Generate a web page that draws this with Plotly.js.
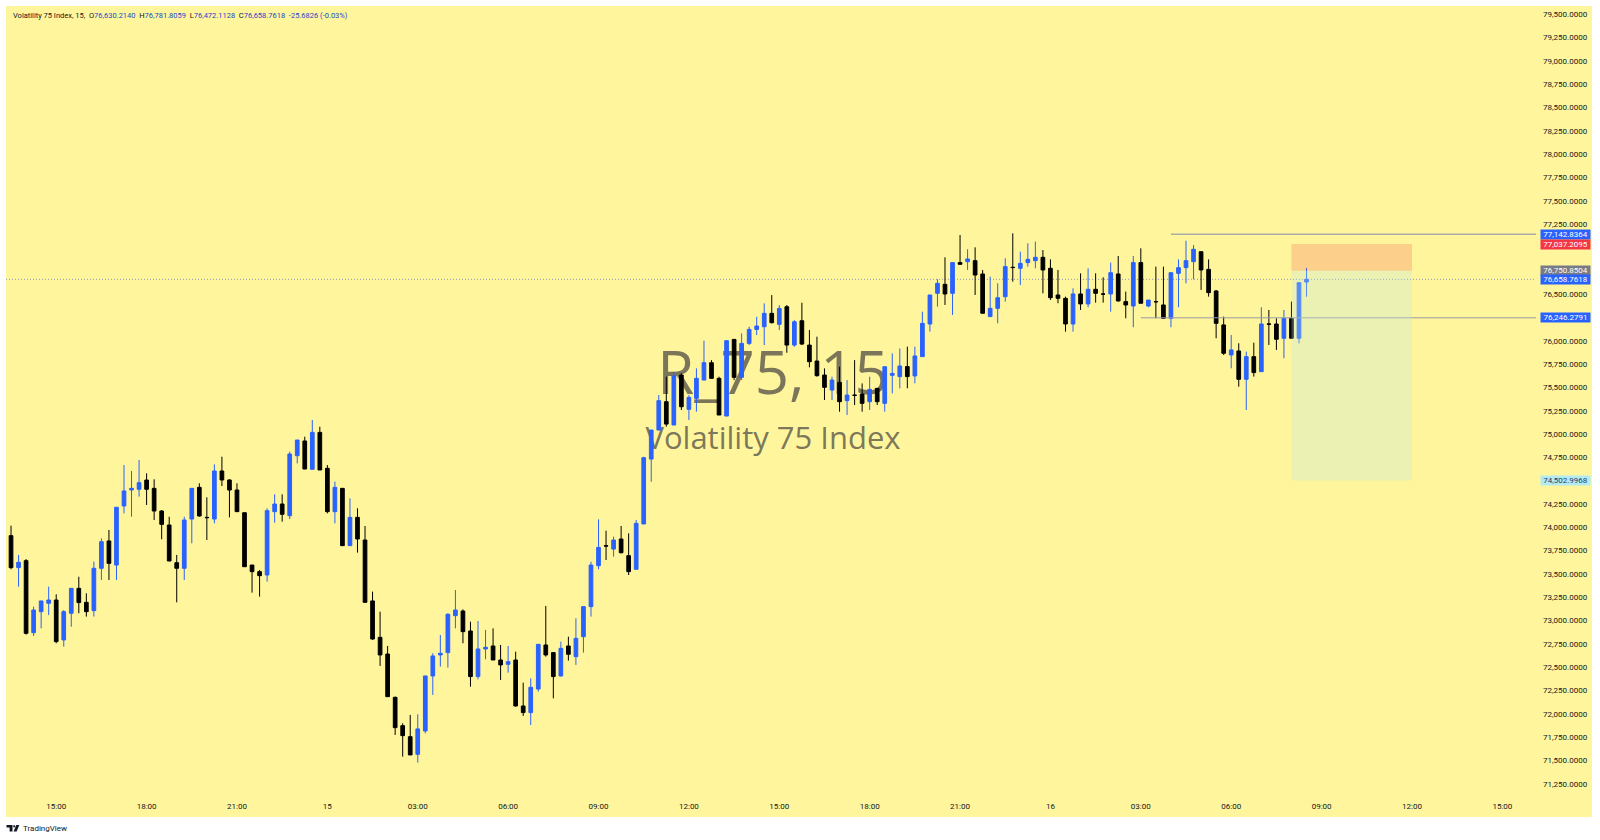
<!DOCTYPE html>
<html><head><meta charset="utf-8">
<script src="https://cdn.plot.ly/plotly-3.0.1.min.js"></script>
<style>html,body{margin:0;padding:0;background:#fff;}#chart{width:1600px;height:840px;}</style>
</head><body><div id="chart"></div>
<script>
const times = [
"2023-11-14 13:30","2023-11-14 13:45","2023-11-14 14:00","2023-11-14 14:15","2023-11-14 14:30","2023-11-14 14:45",
"2023-11-14 15:00","2023-11-14 15:15","2023-11-14 15:30","2023-11-14 15:45","2023-11-14 16:00","2023-11-14 16:15","2023-11-14 16:30","2023-11-14 16:45",
"2023-11-14 17:00","2023-11-14 17:15","2023-11-14 17:30","2023-11-14 17:45","2023-11-14 18:00","2023-11-14 18:15","2023-11-14 18:30","2023-11-14 18:45",
"2023-11-14 19:00","2023-11-14 19:15","2023-11-14 19:30","2023-11-14 19:45","2023-11-14 20:00","2023-11-14 20:15","2023-11-14 20:30","2023-11-14 20:45",
"2023-11-14 21:00","2023-11-14 21:15","2023-11-14 21:30","2023-11-14 21:45","2023-11-14 22:00","2023-11-14 22:15","2023-11-14 22:30","2023-11-14 22:45",
"2023-11-14 23:00","2023-11-14 23:15","2023-11-14 23:30","2023-11-14 23:45",
"2023-11-15 00:00","2023-11-15 00:15","2023-11-15 00:30","2023-11-15 00:45","2023-11-15 01:00","2023-11-15 01:15","2023-11-15 01:30","2023-11-15 01:45",
"2023-11-15 02:00","2023-11-15 02:15","2023-11-15 02:30","2023-11-15 02:45","2023-11-15 03:00","2023-11-15 03:15","2023-11-15 03:30","2023-11-15 03:45",
"2023-11-15 04:00","2023-11-15 04:15","2023-11-15 04:30","2023-11-15 04:45","2023-11-15 05:00","2023-11-15 05:15","2023-11-15 05:30","2023-11-15 05:45",
"2023-11-15 06:00","2023-11-15 06:15","2023-11-15 06:30","2023-11-15 06:45","2023-11-15 07:00","2023-11-15 07:15","2023-11-15 07:30","2023-11-15 07:45",
"2023-11-15 08:00","2023-11-15 08:15","2023-11-15 08:30","2023-11-15 08:45","2023-11-15 09:00","2023-11-15 09:15","2023-11-15 09:30","2023-11-15 09:45",
"2023-11-15 10:00","2023-11-15 10:15","2023-11-15 10:30","2023-11-15 10:45","2023-11-15 11:00","2023-11-15 11:15","2023-11-15 11:30","2023-11-15 11:45",
"2023-11-15 12:00","2023-11-15 12:15","2023-11-15 12:30","2023-11-15 12:45","2023-11-15 13:00","2023-11-15 13:15","2023-11-15 13:30","2023-11-15 13:45",
"2023-11-15 14:00","2023-11-15 14:15","2023-11-15 14:30","2023-11-15 14:45","2023-11-15 15:00","2023-11-15 15:15","2023-11-15 15:30","2023-11-15 15:45",
"2023-11-15 16:00","2023-11-15 16:15","2023-11-15 16:30","2023-11-15 16:45","2023-11-15 17:00","2023-11-15 17:15","2023-11-15 17:30","2023-11-15 17:45",
"2023-11-15 18:00","2023-11-15 18:15","2023-11-15 18:30","2023-11-15 18:45","2023-11-15 19:00","2023-11-15 19:15","2023-11-15 19:30","2023-11-15 19:45",
"2023-11-15 20:00","2023-11-15 20:15","2023-11-15 20:30","2023-11-15 20:45","2023-11-15 21:00","2023-11-15 21:15","2023-11-15 21:30","2023-11-15 21:45",
"2023-11-15 22:00","2023-11-15 22:15","2023-11-15 22:30","2023-11-15 22:45","2023-11-15 23:00","2023-11-15 23:15","2023-11-15 23:30","2023-11-15 23:45",
"2023-11-16 00:00","2023-11-16 00:15","2023-11-16 00:30","2023-11-16 00:45","2023-11-16 01:00","2023-11-16 01:15","2023-11-16 01:30","2023-11-16 01:45",
"2023-11-16 02:00","2023-11-16 02:15","2023-11-16 02:30","2023-11-16 02:45","2023-11-16 03:00","2023-11-16 03:15","2023-11-16 03:30","2023-11-16 03:45",
"2023-11-16 04:00","2023-11-16 04:15","2023-11-16 04:30","2023-11-16 04:45","2023-11-16 05:00","2023-11-16 05:15","2023-11-16 05:30","2023-11-16 05:45",
"2023-11-16 06:00","2023-11-16 06:15","2023-11-16 06:30","2023-11-16 06:45","2023-11-16 07:00","2023-11-16 07:15","2023-11-16 07:30","2023-11-16 07:45",
"2023-11-16 08:00","2023-11-16 08:15","2023-11-16 08:30"
];
const open = [
73911,73568,73643,72871,73096,73186,73221,72793,73079,73346,
73196,73107,73561,73854,73596,74229,74401,74408,74507,74418,
74175,74025,73621,73561,74089,74429,74107,74089,74604,74508,
74400,74157,73596,73525,73489,74168,74250,74125,74768,74926,
74622,75018,74633,74168,74418,73804,74107,73864,73211,72821,
72642,72178,71874,71756,71567,71817,72407,72632,72657,73053,
73103,72889,72400,72696,72728,72578,72532,72578,72085,72014,
72267,72739,72657,72407,72728,72614,72828,73150,73589,73803,
73767,73875,73696,73550,74036,74732,75043,75347,75097,75633,
75265,75383,75579,75765,75597,75193,76015,75608,75972,76122,
76151,76294,76176,76365,75954,76215,75954,75783,75633,75472,
75554,75358,75418,75429,75347,75490,75329,75630,75616,75723,
75623,75830,76180,76509,76605,76509,76838,76848,76859,76716,
76259,76348,76473,76788,76777,76838,76859,76895,76777,76491,
76455,76180,76502,76395,76552,76502,76502,76716,76420,76373,
76838,76373,76420,76384,76241,76723,76784,76848,76955,76766,
76534,76170,75848,75891,75587,75830,75669,76180,76180,76027,
76241,76027,76630.2140
];
const high = [
74018,73704,73660,73150,73211,73364,73282,73114,73346,73471,
73293,73632,73882,73972,74215,74668,74604,74722,74579,74515,
74186,74114,73704,74114,74418,74472,74322,74675,74757,74515,
74472,74157,73596,73543,74204,74354,74354,74811,74936,74972,
75151,75079,74668,74490,74418,74311,74204,74014,73311,73096,
72728,72185,71899,71989,71996,72407,72650,72846,73078,73328,
73121,72989,72996,72900,72917,72739,72728,72667,72335,72382,
72746,73157,72657,72775,72828,73025,73150,73632,74086,73964,
73900,74014,73936,74079,74757,75043,75418,75615,75668,75651,
75418,75704,76001,75793,75615,76008,76015,76079,76151,76258,
76401,76490,76383,76383,76222,76408,76115,76044,75704,75615,
75722,75579,75793,75543,75615,75490,75722,75865,75918,75937,
75937,76312,76491,76659,76895,76838,77134,76981,77002,76759,
76688,76616,76884,77152,76955,77045,77063,76973,76873,76759,
76473,76562,76723,76777,76723,76680,76838,76909,76527,76909,
76991,76437,76795,76795,76730,76873,77073,77027,76955,76873,
76545,76259,76062,75973,75884,75980,76359,76330,76241,76330,
76420,76623,76781.8059
];
const low = [
73550,73364,72850,72835,72917,73060,72757,72721,72935,73079,
73043,73043,73436,73436,73436,74150,74114,74329,74240,74079,
73872,73639,73196,73436,73829,74114,73864,74043,74443,74107,
74168,73578,73300,73257,73418,74050,74061,74089,74686,74625,
74622,74615,74150,74043,73804,73804,73729,73196,72793,72514,
72185,71774,71542,71560,71478,71792,72203,72507,72496,72917,
72757,72292,72371,72585,72578,72364,72442,72078,71978,71881,
72239,72614,72167,72400,72571,72525,72657,73043,73550,73650,
73686,73721,73489,73550,74036,74489,75043,75079,75097,75258,
75150,75240,75579,75597,75204,75193,75579,75579,75954,76061,
75954,76186,76115,75872,75936,75954,75715,75615,75365,75365,
75240,75204,75311,75240,75258,75311,75240,75436,75490,75491,
75544,75830,76098,76366,76384,76277,76813,76759,76491,76295,
76259,76187,76420,76634,76598,76795,76777,76509,76437,76402,
76098,76098,76330,76359,76409,76409,76312,76420,76241,76145,
76402,76359,76241,76241,76145,76359,76616,76659,76545,76473,
76027,75848,75705,75508,75258,75616,75669,75955,75902,75813,
76027,75973,76472.1128
];
const close = [
73568,73625,72864,73114,73211,73221,72775,73096,73346,73193,
73096,73561,73846,73614,74215,74390,74418,74479,74408,74175,
74032,73639,73561,74079,74418,74122,74104,74604,74508,74400,
74168,73578,73525,73482,74179,74250,74140,74786,74936,74625,
75018,74615,74168,74429,73804,74107,73875,73196,72803,72632,
72185,71853,71767,71560,71839,72407,72621,72650,73068,73114,
72882,72400,72696,72714,72578,72525,72560,72085,72014,72285,
72746,72632,72400,72703,72639,72810,73150,73596,73785,73800,
73864,73728,73525,74043,74747,75043,75358,75107,75622,75293,
75393,75597,75765,75597,75204,76001,75608,75972,76122,76158,
76294,76194,76347,75954,76204,75965,75776,75626,75501,75579,
75347,75418,75415,75329,75479,75347,75722,75650,75730,75616,
75837,76187,76491,76616,76502,76838,76820,76877,76705,76295,
76348,76462,76795,76785,76830,76873,76895,76759,76462,76455,
76180,76502,76395,76552,76509,76500,76730,76427,76384,76838,
76402,76437,76418,76241,76730,76784,76859,76981,76759,76516,
76187,75866,75902,75587,75830,75659,76180,76178,76016,76241,
76027,76623,76658.7618
];
const xTickVals = ["2023-11-14 15:00","2023-11-14 18:00","2023-11-14 21:00","2023-11-15 00:00","2023-11-15 03:00","2023-11-15 06:00",
"2023-11-15 09:00","2023-11-15 12:00","2023-11-15 15:00","2023-11-15 18:00","2023-11-15 21:00","2023-11-16 00:00","2023-11-16 03:00",
"2023-11-16 06:00","2023-11-16 09:00","2023-11-16 12:00","2023-11-16 15:00"];
const xTickText = ["15:00","18:00","21:00","15","03:00","06:00","09:00","12:00","15:00","18:00","21:00","16","03:00","06:00","09:00","12:00","15:00"];
// price-scale ticks (those hidden behind the coloured price labels are left out, as in the reference)
const yTickVals = [71250,71500,71750,72000,72250,72500,72750,73000,73250,73500,73750,74000,74250,74750,75000,75250,75500,75750,76000,76500,
77250,77500,77750,78000,78250,78500,78750,79000,79250,79500];
const xRange = ["2023-11-14 13:20","2023-11-16 16:07"];
const yRange = [71077, 79589];

// drawings
const lastPrice = 76658.7618;
const resistance = {price: 77142.8364, from: "2023-11-16 04:00"};
const support = {price: 76246.2791, from: "2023-11-16 03:00"};
const position = {entry: 76750.8504, stop: 77037.2095, target: 74502.9968, from: "2023-11-16 08:00", to: "2023-11-16 12:00"};
const axisLabels = [
  {price: 77142.8364, text: "77,142.8364", bg: "#2962ff", fg: "#ffffff"},
  {price: 77037.2095, text: "77,037.2095", bg: "#f23645", fg: "#ffffff"},
  {price: 76750.8504, text: "76,750.8504", bg: "#787b86", fg: "#ffffff"},
  {price: 76658.7618, text: "76,658.7618", bg: "#2962ff", fg: "#ffffff"},
  {price: 76246.2791, text: "76,246.2791", bg: "#2962ff", fg: "#ffffff"},
  {price: 74502.9968, text: "74,502.9968", bg: "#b2ebf2", fg: "#2a3a66"}
];
const headerName = "Volatility 75 Index, 15,";
const headerVals = [["O","76,630.2140"],["H","76,781.8059"],["L","76,472.1128"],["C","76,658.7618"]];
const headerChange = "-25.6826 (-0.03%)";

const BG = "#fff59d";
const W = 1600, H = 840, ML = 6, MR = 64, MT = 6, MB = 40;
const PW = W - ML - MR, PH = H - MT - MB;
const px = x => (x - ML) / PW;
const py = y => (H - MB - y) / PH;

const trace = {
  type: "candlestick", x: times, open: open, high: high, low: low, close: close,
  increasing: {line: {color: "#2962ff", width: 1}, fillcolor: "#2962ff"},
  decreasing: {line: {color: "#000000", width: 1}, fillcolor: "#000000"},
  hoverinfo: "skip", whiskerwidth: 0
};

const shapes = [
  {type:"rect", xref:"paper", yref:"paper", x0:0, x1:px(1592), y0:py(817), y1:1, fillcolor:BG, line:{width:0}, layer:"below"},
  {type:"rect", xref:"paper", yref:"paper", x0:px(600), x1:px(946), y0:py(405), y1:py(345), fillcolor:"rgba(0,0,0,0)", line:{width:0}, layer:"below",
    label:{text:"R_75, 15", textposition:"middle center", font:{family:"Open Sans, sans-serif", size:60, color:"rgba(90,86,72,0.8)"}}},
  {type:"rect", xref:"paper", yref:"paper", x0:px(600), x1:px(946), y0:py(456), y1:py(422), fillcolor:"rgba(0,0,0,0)", line:{width:0}, layer:"below",
    label:{text:"Volatility 75 Index", textposition:"middle center", font:{family:"Open Sans, sans-serif", size:31, color:"rgba(90,86,72,0.8)"}}},
  {type:"line", xref:"paper", yref:"y", x0:0, x1:1, y0:lastPrice, y1:lastPrice, line:{color:"#8f97b3", width:1, dash:"1px,2px"}, layer:"below"},
  {type:"line", xref:"x", yref:"y", x0:resistance.from, x1:xRange[1], y0:resistance.price, y1:resistance.price, line:{color:"#8389ad", width:1}},
  {type:"line", xref:"x", yref:"y", x0:support.from, x1:xRange[1], y0:support.price, y1:support.price, line:{color:"#9a9ca6", width:1}},
  {type:"rect", xref:"x", yref:"y", x0:position.from, x1:position.to, y0:position.entry, y1:position.stop, fillcolor:"rgba(242,54,69,0.2)", line:{width:0}, layer:"above"},
  {type:"rect", xref:"x", yref:"y", x0:position.from, x1:position.to, y0:position.target, y1:position.entry, fillcolor:"rgba(190,232,228,0.3)", line:{width:0}, layer:"above"},
  // TradingView logo mark
  {type:"path", xref:"paper", yref:"paper", fillcolor:"#131722", line:{width:0},
    path:`M ${px(6.5)} ${py(825)} L ${px(12.5)} ${py(825)} L ${px(12.5)} ${py(831.5)} L ${px(9.6)} ${py(831.5)} L ${px(9.6)} ${py(827.6)} L ${px(6.5)} ${py(827.6)} Z`},
  {type:"circle", xref:"paper", yref:"paper", fillcolor:"#131722", line:{width:0}, x0:px(13.1), x1:px(15.3), y0:py(827.4), y1:py(825.2)},
  {type:"path", xref:"paper", yref:"paper", fillcolor:"#131722", line:{width:0},
    path:`M ${px(16.3)} ${py(825)} L ${px(19.3)} ${py(825)} L ${px(16.6)} ${py(831.5)} L ${px(13.6)} ${py(831.5)} Z`}
];

const blue = "#2447c9";
let headerText = headerName;
headerVals.forEach(v => { headerText += "\u00a0\u00a0" + v[0] + `<span style="color:${blue}">${v[1]}</span>`; });
headerText += `\u00a0\u00a0<span style="color:${blue}">${headerChange}</span>`;

const annotations = [
  {xref:"paper", yref:"paper", x:px(11), y:py(15.3), xanchor:"left", yanchor:"middle", showarrow:false,
    text:headerText, font:{family:"Roboto, sans-serif", size:7.5, color:"#131722"}},
  {xref:"paper", yref:"paper", x:px(20.5), y:py(828.3), xanchor:"left", yanchor:"middle", showarrow:false,
    text:"TradingView", font:{family:"Roboto, sans-serif", size:8, color:"#131722"}}
];
axisLabels.forEach(a => annotations.push({
  xref:"paper", yref:"y", x:px(1540), y:a.price, xanchor:"left", yanchor:"middle", showarrow:false,
  text:a.text, bgcolor:a.bg, font:{family:"Roboto, sans-serif", size:8, color:a.fg}, borderpad:0, width:49, height:9.4, align:"center"
}));

const layout = {
  width: W, height: H,
  margin: {l: ML, r: MR, t: MT, b: MB, pad: 0},
  paper_bgcolor: "#ffffff", plot_bgcolor: BG,
  showlegend: false, hovermode: false, dragmode: false,
  font: {family: "Roboto, sans-serif", size: 8, color: "#131722"},
  boxgap: 0.3,
  xaxis: {type: "date", range: xRange, rangeslider: {visible: false}, tickvals: xTickVals, ticktext: xTickText,
    showgrid: false, zeroline: false, showline: false, ticks: "", tickfont: {size: 8, color: "#131722"}, fixedrange: true},
  yaxis: {side: "right", range: yRange, tickmode: "array", tickvals: yTickVals, tickformat: ",.4f", showgrid: false, zeroline: false,
    showline: false, ticks: "", ticklabelstandoff: 6, tickfont: {size: 8, color: "#131722"}, fixedrange: true},
  shapes: shapes, annotations: annotations
};

Plotly.newPlot("chart", [trace], layout, {displayModeBar: false, staticPlot: true});
</script>
</body></html>
